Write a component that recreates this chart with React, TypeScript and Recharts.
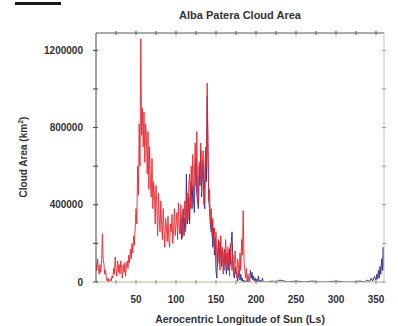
import React from 'react';
import { LineChart, Line, XAxis, YAxis, Label } from 'recharts';

// Cloud area in thousands of km², red series: Ls = 0, 1, 2, ... 192
const redStartLs = 0;
const redValues = [
  100, 60, 120, 70, 40, 90, 50, 110, 250, 120,
  90, 40, 60, 15, 5, 20, 0, 10, 15, 5,
  30, 20, 70, 40, 130, 60, 30, 110, 50, 90,
  40, 110, 70, 20, 90, 50, 100, 30, 80, 110,
  70, 140, 100, 170, 120, 200, 150, 240, 190, 280,
  380, 300, 600, 450, 820, 600, 1260, 760, 900, 700,
  880, 620, 820, 760, 560, 780, 480, 700, 520, 440,
  640, 380, 520, 460, 300, 500, 400, 240, 460, 340,
  260, 420, 300, 220, 380, 260, 180, 330, 290, 210,
  340, 220, 180, 300, 260, 350, 200, 270, 380, 240,
  300, 360, 220, 410, 280, 250, 400, 320, 230, 360,
  300, 420, 260, 360, 460, 320, 500, 560, 380, 600,
  480, 660, 420, 560, 720, 500, 780, 460, 400, 620,
  540, 720, 460, 620, 680, 400, 560, 700, 600, 1030,
  700, 420, 480, 300, 380, 240, 330, 200, 280, 150,
  260, 120, 80, 220, 160, 60, 240, 120, 180, 40,
  160, 90, 220, 140, 60, 180, 100, 30, 200, 120,
  60, 140, 30, 110, 160, 70, 20, 120, 90, 30,
  150, 60, 220, 140, 370, 110, 60, 20, 70, 10,
  40, 5, 0,
];

// Blue series: dense part Ls = 105 ... 210
const blueStartLs = 105;
const blueDenseValues = [
  250, 330, 220, 300, 380, 240, 330, 280, 560, 300,
  360, 440, 300, 460, 520, 380, 500, 420, 360, 580,
  640, 460, 420, 380, 600, 500, 680, 440, 560, 620,
  420, 380, 680, 520, 960, 640, 420, 380, 300, 260,
  320, 180, 280, 140, 230, 60, 20, 140, 200, 100,
  210, 150, 80, 170, 120, 60, 170, 110, 40, 150,
  130, 60, 170, 90, 200, 260, 120, 50, 20, 80,
  40, 50, 5, 30, 60, 10, 40, 5, 20, 0,
  10, 0, 5, 0, 10, 0, 5, 0, 60, 20,
  50, 10, 30, 5, 20, 0, 15, 0, 30, 0,
  10, 0, 0, 20, 0, 0,
];
// Blue series: sparse part
const blueSparseLs = [215, 220, 225, 230, 240, 250, 260, 270, 280, 290, 300, 310, 320, 330, 335, 340, 342, 344, 346, 348, 350, 351, 352, 353, 354, 355, 356, 357, 358, 359, 360];
const blueSparseValues = [0, 5, 0, 10, 0, 5, 0, 5, 0, 0, 5, 0, 0, 5, 0, 10, 0, 20, 5, 30, 10, 40, 15, 60, 20, 80, 40, 120, 60, 180, 60];

const xTicks = [25, 50, 75, 100, 125, 150, 175, 200, 225, 250, 275, 300, 325, 350];
const xLabelTicks = [50, 100, 150, 200, 250, 300, 350];
const yTicks = [0, 200000, 400000, 600000, 800000, 1000000, 1200000];
const yLabelTicks = [0, 400000, 800000, 1200000];

const title = 'Alba Patera Cloud Area';
const xTitle = 'Aerocentric Longitude of Sun (Ls)';

type Row = { ls: number; red?: number; blue?: number };

function buildData(): Row[] {
  const map = new Map<number, Row>();
  const get = (ls: number) => {
    let r = map.get(ls);
    if (!r) {
      r = { ls };
      map.set(ls, r);
    }
    return r;
  };
  redValues.forEach((v, i) => {
    get(redStartLs + i).red = v * 1000;
  });
  blueDenseValues.forEach((v, i) => {
    get(blueStartLs + i).blue = v * 1000;
  });
  blueSparseLs.forEach((ls, i) => {
    get(ls).blue = blueSparseValues[i] * 1000;
  });
  return Array.from(map.values()).sort((a, b) => a.ls - b.ls);
}

const data = buildData();
const FONT = '"Liberation Sans", Arial, sans-serif';
const tickStyle = { fontSize: 10, fontWeight: 700, fill: '#333', fontFamily: FONT };
const emptyTick = () => '';

export default function App() {
  return (
    <div style={{ position: 'absolute', left: 0, top: 0, width: 398, height: 326, background: '#fff' }}>
      <div style={{ position: 'absolute', left: 15, top: 2, width: 46, height: 3, background: '#1a1a1a' }} />
      <LineChart width={398} height={326} data={data} margin={{ top: 32, right: 13, bottom: 14, left: 0 }}>
        <XAxis
          xAxisId="top"
          orientation="top"
          dataKey="ls"
          type="number"
          domain={[0, 360]}
          ticks={xTicks}
          tickFormatter={emptyTick}
          tickLine={{ stroke: '#555', transform: 'translate(0, 2)' }}
          tickSize={4}
          height={1}
          stroke="#555"
          allowDataOverflow
        />
        <XAxis
          dataKey="ls"
          type="number"
          domain={[0, 360]}
          ticks={xTicks}
          tickFormatter={(v: number) => (xLabelTicks.includes(v) ? String(v) : '')}
          tick={tickStyle}
          tickLine={{ stroke: '#888', transform: 'translate(0, -2)' }}
          tickSize={4}
          tickMargin={10}
          height={30}
          stroke="#b8b498"
          allowDataOverflow
        >
          <Label
            content={() => (
              <g>
                <text x={240} y={19} textAnchor="middle" fontSize={11} fontWeight={700} fill="#333" fontFamily={FONT}>
                  {title}
                </text>
                <text x={240} y={323} textAnchor="middle" fontSize={10.5} fontWeight={700} fill="#333" fontFamily={FONT}>
                  {xTitle}
                </text>
              </g>
            )}
          />
        </XAxis>
        <YAxis
          type="number"
          domain={[0, 1290000]}
          ticks={yTicks}
          tickFormatter={(v: number) => (yLabelTicks.includes(v) ? String(v) : '')}
          tick={tickStyle}
          tickLine={{ stroke: '#444', transform: 'translate(2, 0)' }}
          tickSize={5}
          tickMargin={8}
          width={96}
          stroke="#444"
          allowDataOverflow
        >
          <Label
            content={() => (
              <text
                x={27}
                y={157}
                transform="rotate(-90 27 157)"
                textAnchor="middle"
                fontSize={10}
                fontWeight={700}
                fill="#333"
                fontFamily={FONT}
              >
                Cloud Area (km<tspan fontSize={7} dy={-4}>2</tspan>
                <tspan dy={4}>)</tspan>
              </text>
            )}
          />
        </YAxis>
        <YAxis
          yAxisId="right"
          orientation="right"
          type="number"
          domain={[0, 1290000]}
          ticks={yTicks}
          tickFormatter={emptyTick}
          tickLine={{ stroke: '#999', transform: 'translate(-2, 0)' }}
          tickSize={4}
          width={1}
          stroke="#c4c4c4"
          allowDataOverflow
        />
        {/* invisible copy bound to the top/right frame axes so they render */}
        <Line
          xAxisId="top"
          yAxisId="right"
          dataKey="red"
          stroke="transparent"
          strokeOpacity={0}
          dot={false}
          connectNulls
          isAnimationActive={false}
        />
        <Line
          dataKey="blue"
          stroke="#3c3590"
          strokeWidth={1}
          dot={false}
          connectNulls
          isAnimationActive={false}
        />
        <Line
          dataKey="red"
          stroke="#e8262e"
          strokeWidth={0.9}
          dot={false}
          connectNulls
          isAnimationActive={false}
        />
      </LineChart>
    </div>
  );
}
